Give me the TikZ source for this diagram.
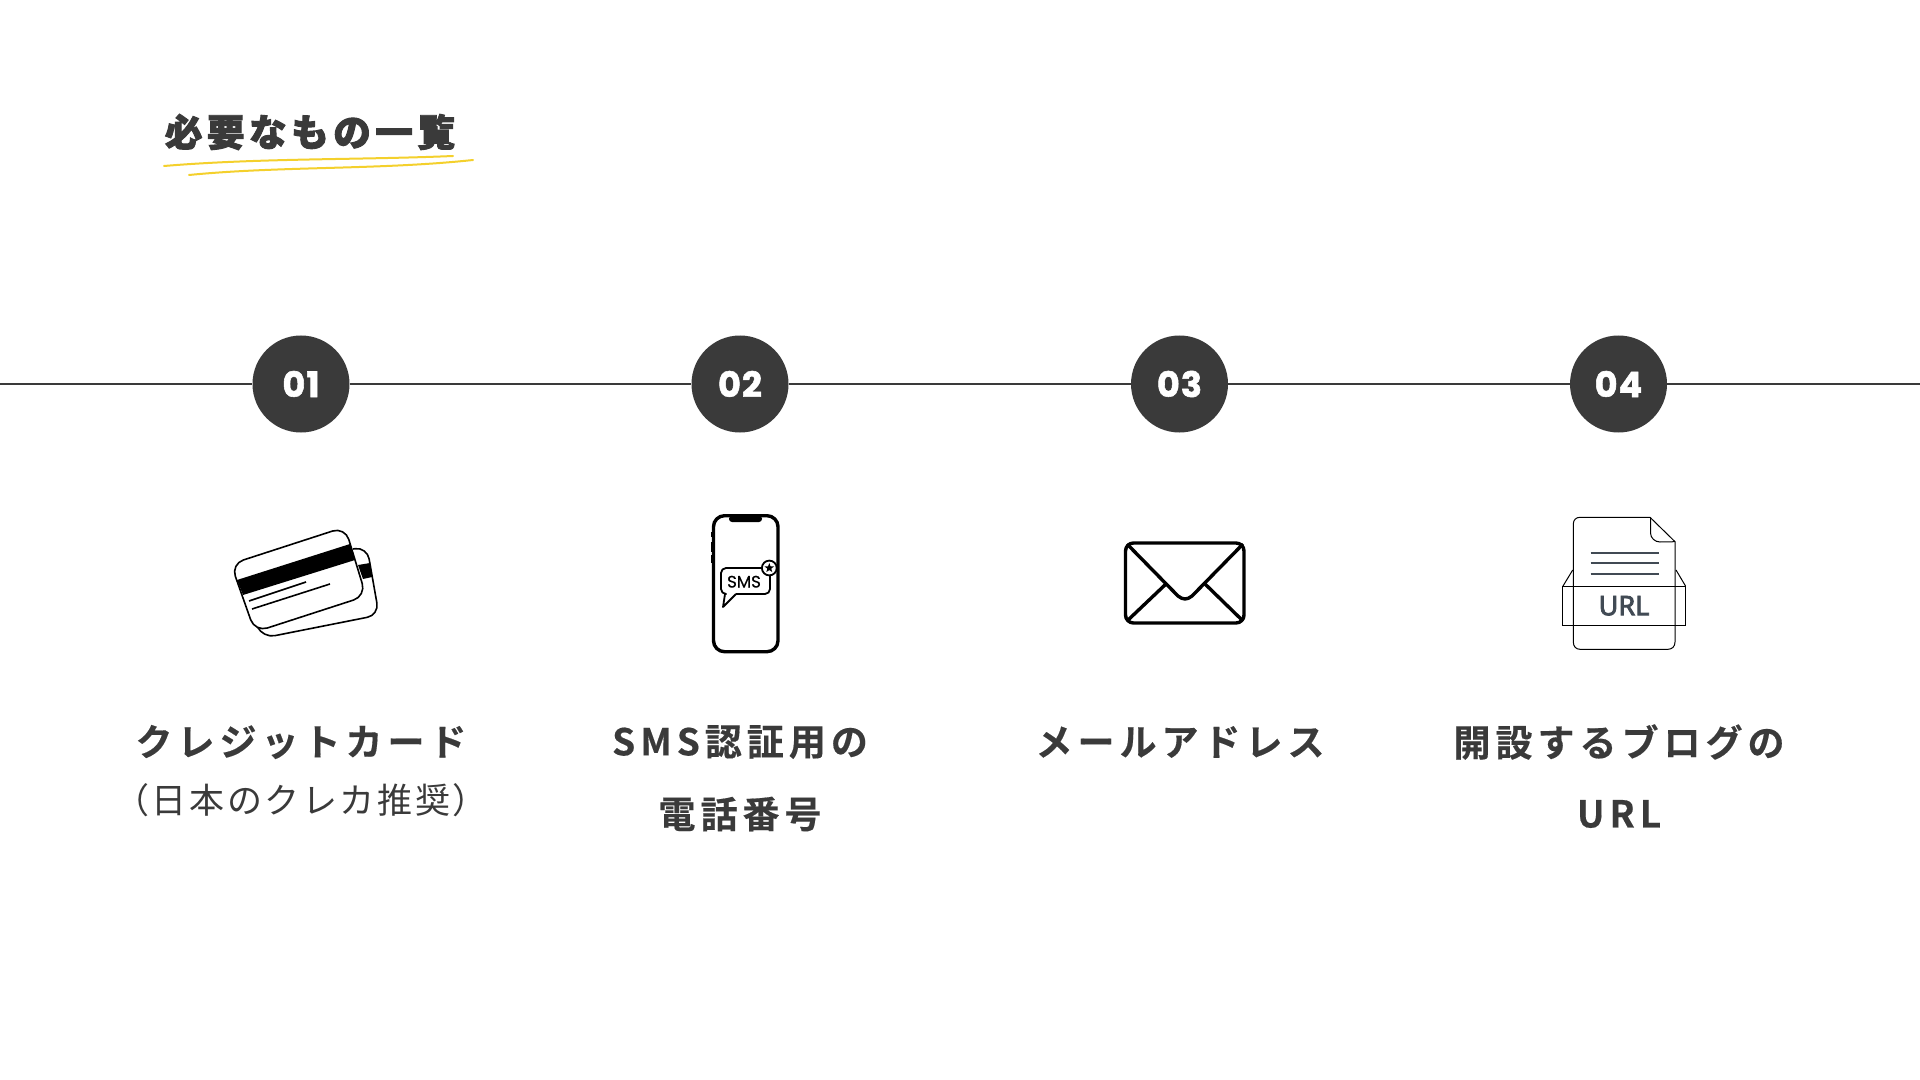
\documentclass[tikz,border=0pt]{standalone}
\usepackage{fontspec}
\usetikzlibrary{shapes.geometric}
\newfontfamily\titlefont[LetterSpace=12,FakeBold=2.5]{Noto Sans CJK JP Black}
\newfontfamily\labelfont[LetterSpace=13.5,FakeBold=0.4]{Noto Sans CJK JP Bold}
\newfontfamily\subfont[LetterSpace=7.5]{Noto Sans CJK JP}
\newfontfamily\numfont[LetterSpace=3,FakeBold=1.6]{Poppins Bold}
\newfontfamily\smsfont[FakeBold=0.5]{Poppins}
\newfontfamily\urlfont[FakeBold=3]{Noto Sans}
\definecolor{ink}{HTML}{3A3A3A}
\definecolor{marker}{HTML}{F4D02C}
\definecolor{slatec}{HTML}{414A54}
\tikzset{
  x=0.5pt,y=-0.5pt,
  numdisc/.style={circle,fill=ink,text=white,minimum size=48.5pt,inner sep=0pt,font=\numfont\fontsize{17.5}{18}\selectfont},
  rule/.style={draw=ink,line width=1pt},
  lab/.style={text=ink,inner sep=0pt,anchor=center,font=\labelfont\fontsize{18.5}{20}\selectfont},
  sublab/.style={text=ink,inner sep=0pt,anchor=center,font=\subfont\fontsize{17.5}{20}\selectfont},
  underline/.style={draw=marker,line width=1pt,line cap=round},
  icon/.style={draw=black,line width=0.8pt,line join=round},
  heavy/.style={draw=black,line width=1.7pt,line join=round},
  thinl/.style={draw=black,line width=0.5pt},
}
\begin{document}
\begin{tikzpicture}
\useasboundingbox (0,0) rectangle (1920,1080);
\fill[white] (0,0) rectangle (1920,1080);

% title
\node[text=ink,inner sep=0pt,font=\titlefont\fontsize{18.8}{20}\selectfont] (title) at (310,132) {必要なもの一覧};
\coordinate (u1a) at (164,166); \coordinate (u1b) at (453,156);
\coordinate (u2a) at (189,175); \coordinate (u2b) at (473,160);
\draw[underline] (u1a) .. controls (260,158) and (360,160) .. (u1b);
\draw[underline] (u2a) .. controls (280,166) and (380,170) .. (u2b);

% timeline
\coordinate (lineL) at (0,384);
\coordinate (lineR) at (1920,384);
\node[numdisc] (n1) at (301,384) {01};
\node[numdisc] (n2) at (740,384) {02};
\node[numdisc] (n3) at (1179.5,384) {03};
\node[numdisc] (n4) at (1618.5,384) {04};
\draw[rule] (lineL) -- (n1);
\draw[rule] (n1) -- (n2);
\draw[rule] (n2) -- (n3);
\draw[rule] (n3) -- (n4);
\draw[rule] (n4) -- (lineR);

% card icon: back card
\fill[black] (358,565) -- (370,563) -- (372,577) -- (363,579) -- cycle;
\draw[icon,rounded corners=6pt] (353,549) -- (367,547) -- (379,615) -- (263,638) -- (258,628);
% card icon: front card
\draw[icon,fill=white,rounded corners=6.5pt] (231,564) -- (345,527) -- (366,596) -- (255,632) -- cycle;
\fill[black] (237,580) -- (350,544) -- (355,560) -- (243,595) -- cycle;
\draw[icon] (249,601) -- (306,582);
\draw[icon] (252,609) -- (330,584);

% phone icon
\draw[heavy,rounded corners=5.5pt] (713.5,515.7) rectangle (778,651.7);
\fill[black,rounded corners=1.5pt] (729,515.7) -- (762,515.7) -- (762,522) -- (729,522) -- cycle;
\fill[black] (711,532) rectangle (713,537);
\fill[black] (711,542) rectangle (713,552);
\fill[black] (711,555) rectangle (713,563);
\draw[icon,line width=0.9pt,rounded corners=2.5pt] (724,594) -- (721,594) -- (721,568) -- (770,568) -- (770,594) -- (736,594);
\draw[icon,line width=0.9pt] (736,594) -- (723,607) -- (725,594);
\node[circle,draw=black,fill=white,line width=0.9pt,minimum size=7.4pt,inner sep=0pt] (badge) at (769.3,568) {};
\node[star,star points=5,star point ratio=2.4,fill=black,minimum size=5pt,inner sep=0pt] (badgestar) at (769.3,568) {};
\node[inner sep=0pt,text=black,font=\smsfont\fontsize{8.3}{10}\selectfont] (sms) at (744,581.7) {SMS};

% envelope icon
\draw[heavy,rounded corners=4pt] (1125.5,543) rectangle (1244,623);
\draw[heavy] (1127,544) -- (1178,596) .. controls (1183,600) and (1187,600) .. (1192,596) -- (1243,544);
\draw[heavy] (1167,583) -- (1127,621);
\draw[heavy] (1204,583) -- (1243,621);

% file icon
\draw[thinl,line join=round] (1650,517.3) -- (1580,517.3) .. controls (1576,517.3) and (1573.3,520) .. (1573.3,524) -- (1573.3,642) .. controls (1573.3,646.5) and (1576,649.3) .. (1580,649.3) -- (1668,649.3) .. controls (1672,649.3) and (1675,646.5) .. (1675,642) -- (1675,541.7) -- (1650,517.3);
\draw[thinl] (1650.5,517.3) -- (1650.5,533) .. controls (1650.5,538) and (1655,542) .. (1660,542) -- (1675,541.7);
\draw[slatec,line width=1pt] (1590.7,552.7) -- (1658.7,552.7);
\draw[slatec,line width=1pt] (1590.7,563.3) -- (1658.7,563.3);
\draw[slatec,line width=1pt] (1590.7,574) -- (1658.7,574);
\draw[thinl] (1562.7,586) rectangle (1685.7,625.7);
\draw[thinl] (1563,586) -- (1572.7,570);
\draw[thinl] (1685.5,586) -- (1676,570);
\node[inner sep=0pt,text=slatec,font=\urlfont\fontsize{13.5}{16}\selectfont] (url) at (1624,605.7) {URL};

% labels
\node[lab] (l1) at (301,742) {クレジットカード};
\node[sublab] (l1b) at (301,800) {（日本のクレカ推奨）};
\node[lab] (l2) at (740,742) {SMS認証用の};
\node[lab] (l2b) at (740,814) {電話番号};
\node[lab] (l3) at (1180,742) {メールアドレス};
\node[lab] (l4) at (1619,742) {開設するブログの};
\node[lab] (l4b) at (1619,814) {URL};
\end{tikzpicture}
\end{document}
